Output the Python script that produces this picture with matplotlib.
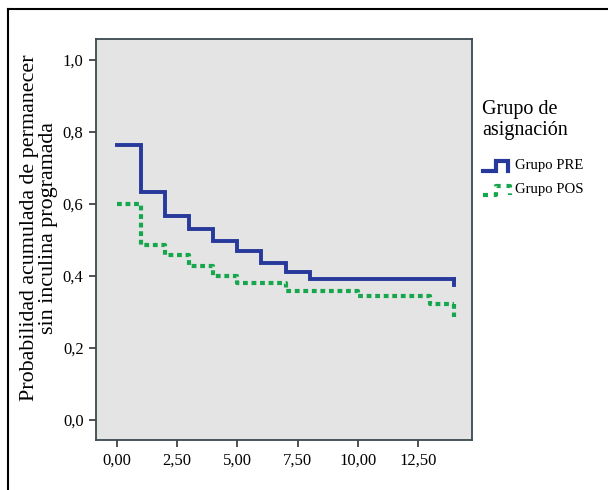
import matplotlib
matplotlib.use("Agg")
import matplotlib.pyplot as plt
from matplotlib.lines import Line2D

# Data (Kaplan-Meier step curves)
pre_times = [0, 1, 2, 3, 4, 5, 6, 7, 8, 14]
pre_surv = [0.764, 0.632, 0.567, 0.530, 0.497, 0.469, 0.435, 0.412, 0.391, 0.375]
pos_times = [0, 1, 2, 3, 4, 5, 7, 10, 13, 14]
pos_surv = [0.600, 0.486, 0.458, 0.428, 0.400, 0.380, 0.357, 0.343, 0.322, 0.287]
x_ticks = [0, 2.5, 5, 7.5, 10, 12.5]
x_tick_labels = ["0,00", "2,50", "5,00", "7,50", "10,00", "12,50"]
y_ticks = [0.0, 0.2, 0.4, 0.6, 0.8, 1.0]
y_tick_labels = ["0,0", "0,2", "0,4", "0,6", "0,8", "1,0"]
series_names = ["Grupo PRE", "Grupo POS"]
legend_title = "Grupo de\nasignación"
ylabel = "Probabilidad acumulada de permanecer\nsin inculina programada"

BLUE = "#27399a"
GREEN = "#16a64c"
plt.rcParams['font.family'] = ['Liberation Serif', 'DejaVu Serif']

W, H = 608, 490
fig = plt.figure(figsize=(W / 100, H / 100), dpi=100)
ax = fig.add_axes([96 / W, 1 - 440 / H, (472 - 96) / W, (440 - 39) / H])
ax.set_facecolor("#e4e4e4")

DOT = (0, (1.15, 0.9))
ax.step(pre_times[:-1] + [pre_times[-1]], pre_surv[:-1] + [pre_surv[-2]], where="post",
        color=BLUE, lw=2.8, solid_joinstyle="miter")
ax.plot([pre_times[-1], pre_times[-1]], [pre_surv[-2], pre_surv[-1]], color=BLUE, lw=2.8)
ax.step(pos_times[:-1] + [pos_times[-1]], pos_surv[:-1] + [pos_surv[-2]], where="post",
        color=GREEN, lw=3.0, linestyle=DOT, dash_capstyle="butt")
ax.plot([pos_times[-1], pos_times[-1]], [pos_surv[-2], pos_surv[-1]], color=GREEN, lw=3.0,
        linestyle=DOT, dash_capstyle="butt")

ax.set_xlim(-0.87, 14.74)
ax.set_ylim(-0.056, 1.058)
ax.set_xticks(x_ticks)
ax.set_xticklabels(x_tick_labels)
ax.set_yticks(y_ticks)
ax.set_yticklabels(y_tick_labels)
ax.tick_params(axis="both", labelsize=12, length=5, width=1.2, color="#333333", pad=4)
for s in ax.spines.values():
    s.set_color("#3a4a50")
    s.set_linewidth(1.3)

fig.text(39 / W, 1 - 228 / H, ylabel, rotation=90, ha="center", va="center",
         fontsize=15.8, multialignment="center", linespacing=1.0)

# Legend
fig.text(482 / W, 1 - 120 / H, legend_title, ha="left", va="center", fontsize=14.5, linespacing=1.15)
fig.text(515 / W, 1 - 165 / H, series_names[0], ha="left", va="center", fontsize=10.6)
fig.text(515 / W, 1 - 189 / H, series_names[1], ha="left", va="center", fontsize=10.6)
px = lambda x: x / W
py = lambda y: 1 - y / H
fig.add_artist(Line2D([px(483), px(496), px(496), px(508), px(508)],
                      [py(171), py(171), py(161), py(161), py(171)],
                      color=BLUE, lw=3.0, solid_joinstyle="miter"))
fig.add_artist(Line2D([px(483), px(496), px(496), px(510), px(510)],
                      [py(195), py(195), py(186), py(186), py(195)],
                      color=GREEN, lw=3.0, linestyle=(0, (1.2, 1.4)), dash_capstyle="butt"))

# Figure border (top and left)
fig.add_artist(Line2D([px(8), px(608)], [py(9), py(9)], color="black", lw=1.5))
fig.add_artist(Line2D([px(8), px(8)], [py(9), py(490)], color="black", lw=1.5))

fig.savefig("out.png", dpi=100)
